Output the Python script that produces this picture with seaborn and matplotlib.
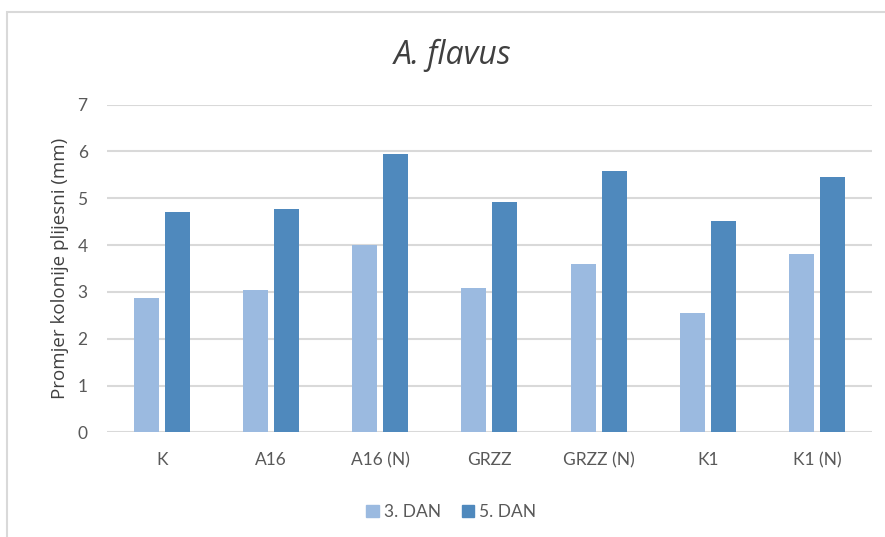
import matplotlib.pyplot as plt
import matplotlib.patches as mpatches
import seaborn as sns
import pandas as pd

categories = ["K", "A16", "A16 (N)", "GRZZ", "GRZZ (N)", "K1", "K1 (N)"]
dan3 = [2.86, 3.05, 4.00, 3.09, 3.60, 2.54, 3.82]
dan5 = [4.71, 4.77, 5.95, 4.91, 5.58, 4.51, 5.45]
series = ["3. DAN", "5. DAN"]
colors = ["#9bbae0", "#4f89bd"]

df = pd.DataFrame({
    "kategorija": categories * 2,
    "vrijednost": dan3 + dan5,
    "dan": [series[0]] * len(categories) + [series[1]] * len(categories),
})

sns.set_theme(style="white")
plt.rcParams["font.family"] = ["Lato", "DejaVu Sans"]

fig = plt.figure(figsize=(8.85, 5.37), dpi=100)
ax = fig.add_axes([0.121, 0.1946, 0.864, 0.6108])

sns.barplot(
    data=df, x="kategorija", y="vrijednost", hue="dan",
    palette=colors, width=0.567, gap=0.19, ax=ax, legend=False,
    saturation=1, edgecolor="none",
)

ax.set_ylim(0, 7)
ax.set_yticks(range(0, 8))
ax.yaxis.grid(True, color="#d9d9d9", linewidth=1.5)
ax.set_axisbelow(True)
for s in ax.spines.values():
    s.set_visible(False)
ax.tick_params(axis="both", length=0, labelsize=12.5, labelcolor="#595959")
ax.tick_params(axis="x", pad=14)
ax.tick_params(axis="y", pad=14)
ax.set_xlabel("")
ax.set_ylabel("Promjer kolonije plijesni (mm)", fontsize=13.5, color="#404040",
              family=["Open Sans", "DejaVu Sans"], labelpad=6)

fig.text(0.511, 0.897, "A. flavus", ha="center", va="center", fontsize=23,
         style="italic", color="#404040", family=["Open Sans", "DejaVu Sans"])

handles = [mpatches.Patch(color=c, label=l) for c, l in zip(colors, series)]
fig.legend(handles=handles, loc="center", bbox_to_anchor=(0.51, 0.047), ncol=2,
           frameon=False, fontsize=12.5, handlelength=0.7, handleheight=0.7,
           handletextpad=0.3, columnspacing=1.2, labelcolor="#595959")

fig.patches.append(mpatches.Rectangle((0.008, -0.01), 1.1, 0.988, transform=fig.transFigure,
                                      fill=False, edgecolor="#d9d9d9", linewidth=1.5))

fig.savefig("out.png", dpi=100)
